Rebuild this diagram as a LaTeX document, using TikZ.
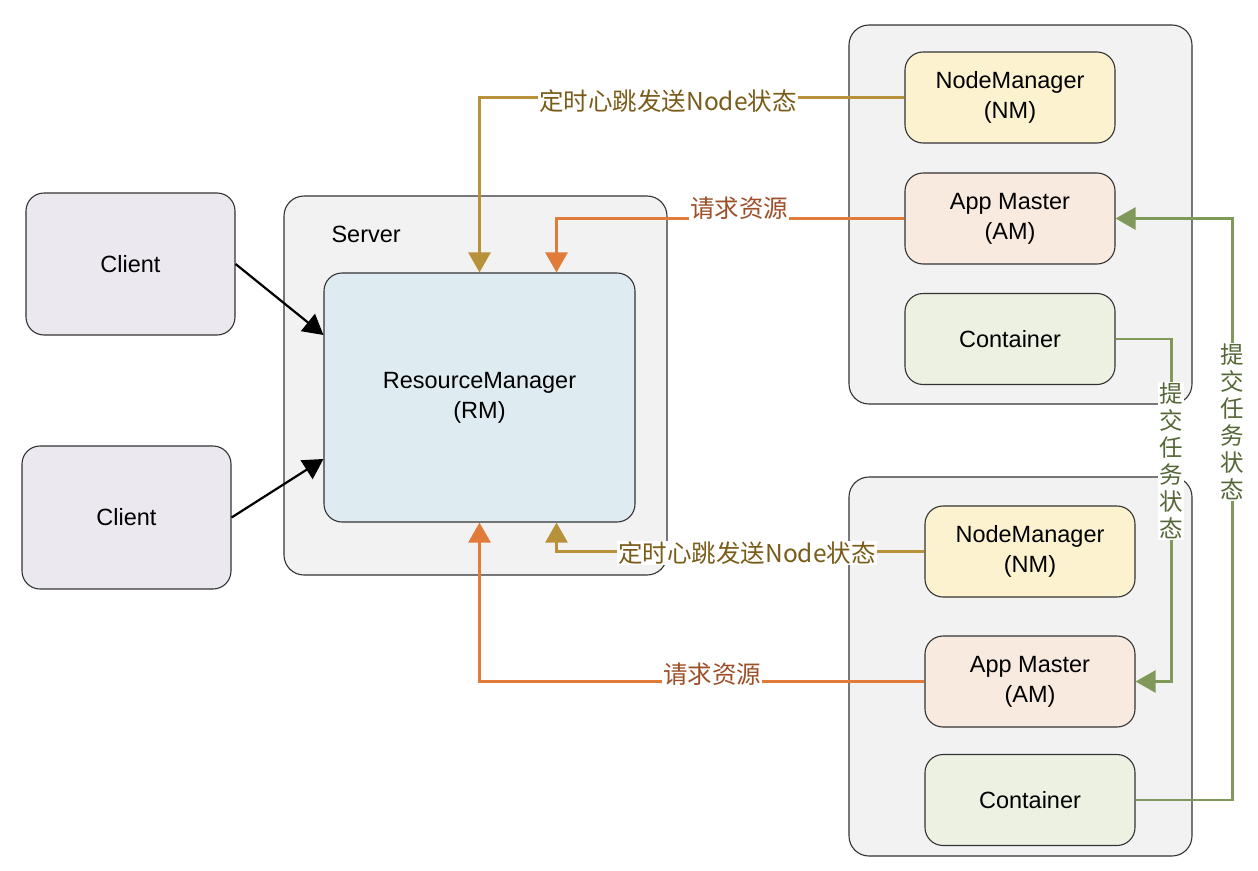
\documentclass[tikz,border=0pt]{standalone}
\usepackage{fontspec}
\setmainfont{Liberation Sans}
\newfontfamily\cjk{Noto Sans CJK SC}
\usetikzlibrary{arrows.meta}
\definecolor{grpfill}{HTML}{F2F2F2}
\definecolor{clifill}{HTML}{ECE8F0}
\definecolor{rmfill}{HTML}{DEEBF1}
\definecolor{nmfill}{HTML}{FDF2D0}
\definecolor{amfill}{HTML}{F9EADF}
\definecolor{ctfill}{HTML}{EDF1E2}
\definecolor{goldline}{HTML}{B8923A}
\definecolor{goldtext}{HTML}{7A5C1A}
\definecolor{orline}{HTML}{E07B39}
\definecolor{ortext}{HTML}{9C4F28}
\definecolor{grline}{HTML}{80995A}
\definecolor{grtext}{HTML}{566737}
\definecolor{edge}{HTML}{333333}
\tikzset{
  group/.style={draw=edge, line width=1.1pt, fill=grpfill, rounded corners=20pt},
  box/.style={draw=edge, line width=1.1pt, rounded corners=18pt, align=center,
    font=\fontsize{23.5}{30}\selectfont, text=black, inner sep=0pt},
  conn/.style={line width=2.6pt},
  tip/.style={-{Triangle[width=22pt,length=20pt]}},
  lbl/.style={fill=white, inner sep=1pt, font=\cjk\fontsize{24.5}{28}\selectfont},
  vlbl/.style={fill=white, inner sep=1pt, align=center, font=\cjk\fontsize{23.5}{27}\selectfont},
}
\begin{document}
\begin{tikzpicture}[x=1pt,y=-1pt]
\useasboundingbox (0,0) rectangle (1258,870);
% groups
\draw[group] (284,196) rectangle (667,575);
\draw[group] (849,25) rectangle (1192,404);
\draw[group] (849,477) rectangle (1192,856);
\node[anchor=west, font=\fontsize{23.5}{26}\selectfont] (srv) at (328,234) {Server};
% boxes
\node[box, fill=clifill, minimum width=209pt, minimum height=142pt] (cl1) at (130.5,264) {Client};
\node[box, fill=clifill, minimum width=209pt, minimum height=143pt] (cl2) at (126.5,517.5) {Client};
\node[box, fill=rmfill, minimum width=311pt, minimum height=249pt] (rm) at (479.5,397.5) {ResourceManager\\(RM)};
\node[box, fill=nmfill, minimum width=210pt, minimum height=91pt] (nm1) at (1010,97.5) {NodeManager\\(NM)};
\node[box, fill=amfill, minimum width=210pt, minimum height=91pt] (am1) at (1010,218.5) {App Master\\(AM)};
\node[box, fill=ctfill, minimum width=210pt, minimum height=91pt] (ct1) at (1010,339) {Container};
\node[box, fill=nmfill, minimum width=210pt, minimum height=91pt] (nm2) at (1030,551.5) {NodeManager\\(NM)};
\node[box, fill=amfill, minimum width=210pt, minimum height=91pt] (am2) at (1030,681.5) {App Master\\(AM)};
\node[box, fill=ctfill, minimum width=210pt, minimum height=91pt] (ct2) at (1030,800) {Container};
% client arrows
\draw[conn, line width=2.2pt, black, tip] (cl1.east) -- ([yshift=62.5pt]rm.west);
\draw[conn, line width=2.2pt, black, tip] (cl2.east) -- ([yshift=-61.5pt]rm.west);
% heartbeat / request connectors
\draw[conn, goldline, tip] (nm1.west) -| (rm.north);
\draw[conn, orline, tip] (am1.west) -| ([xshift=77pt]rm.north);
\draw[conn, goldline, tip] (nm2.west) -| ([xshift=77pt]rm.south);
\draw[conn, orline, tip] (am2.west) -| (rm.south);
% task status connectors
\draw[conn, grline, tip] (ct1.east) -| ([xshift=36pt]am2.east) -- (am2.east);
\draw[conn, grline, tip] (ct2.east) -| ([xshift=117pt]am1.east) -- (am1.east);
% labels
\node[lbl, text=goldtext] (l1) at (668,101) {定时心跳发送Node状态};
\node[lbl, text=ortext] (l2) at (739,208) {请求资源};
\node[lbl, text=goldtext] (l3) at (747,553) {定时心跳发送Node状态};
\node[lbl, text=ortext] (l4) at (712,674) {请求资源};
\node[vlbl, text=grtext] (l5) at (1171,461) {提\\交\\任\\务\\状\\态};
\node[vlbl, text=grtext] (l6) at (1232,422) {提\\交\\任\\务\\状\\态};
\end{tikzpicture}
\end{document}
